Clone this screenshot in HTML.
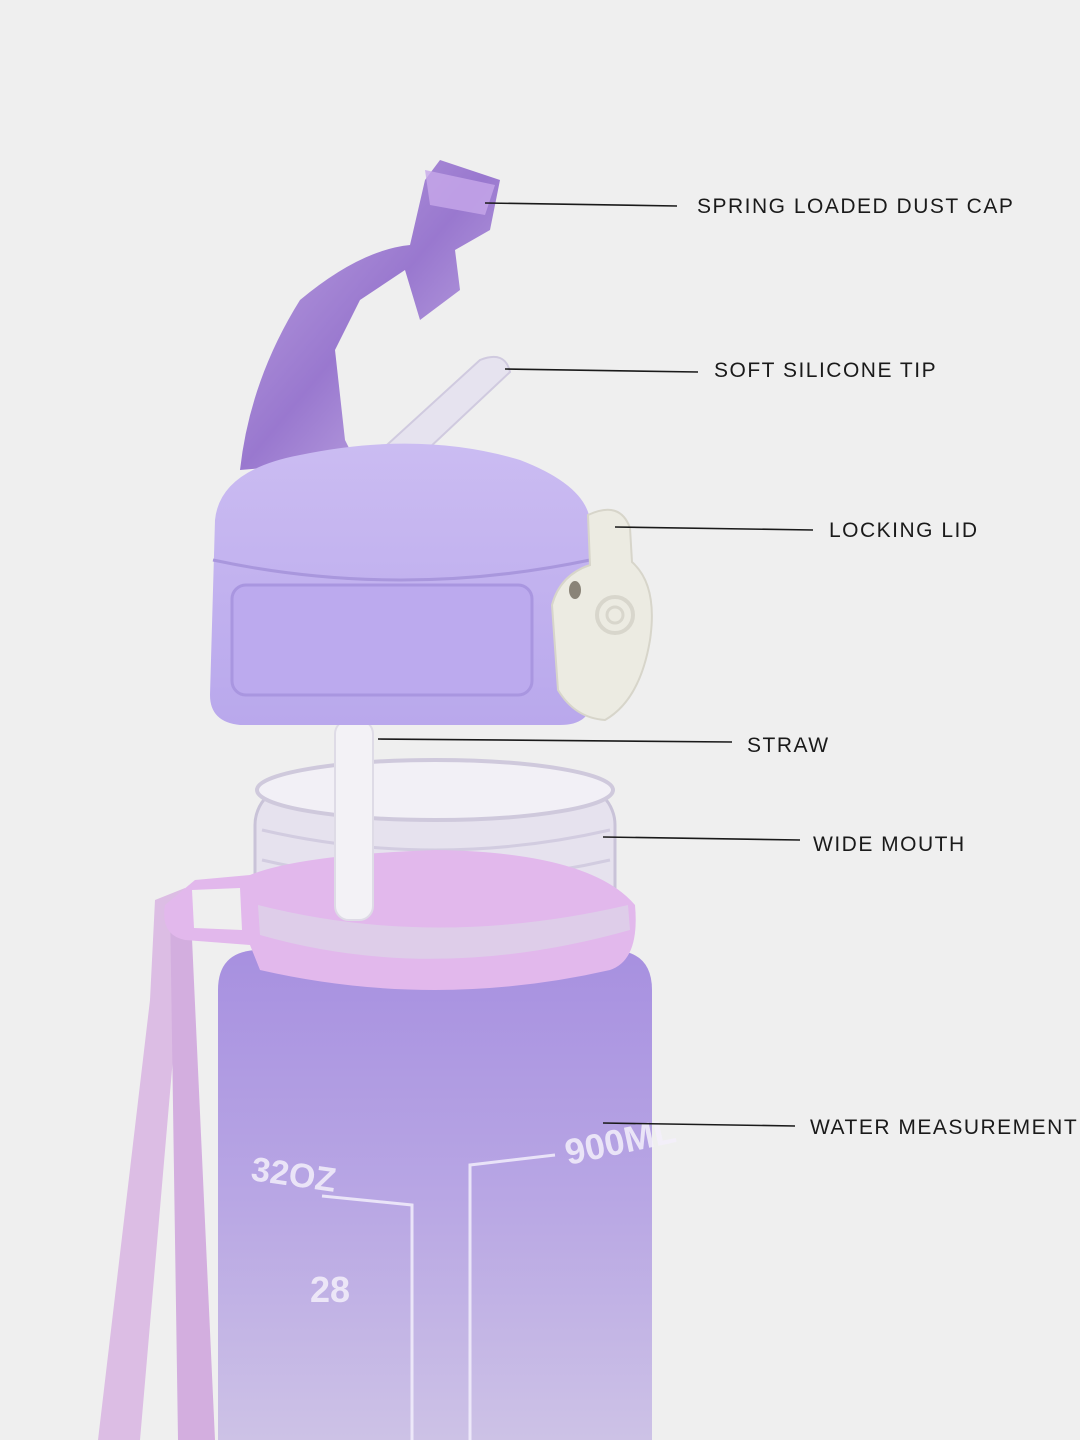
<!DOCTYPE html>
<html><head><meta charset="utf-8"><style>
html,body{margin:0;padding:0;background:#efefef;}
svg{display:block}
.lbl{font-family:"Liberation Sans",sans-serif;font-size:21px;letter-spacing:1.5px;fill:#1a1a1a}
.mk{font-family:"Liberation Sans",sans-serif;font-weight:bold;fill:#f4f0fb;opacity:.85}
</style></head><body>
<svg width="1080" height="1440" viewBox="0 0 1080 1440" xmlns="http://www.w3.org/2000/svg">
<defs>
<linearGradient id="body" x1="0" y1="0" x2="0" y2="1">
<stop offset="0" stop-color="#a790e0"/><stop offset=".5" stop-color="#b8a6e4"/><stop offset="1" stop-color="#cdc2e6"/></linearGradient>
<linearGradient id="cap" x1="0" y1="0" x2="1" y2="1">
<stop offset="0" stop-color="#b89be0"/><stop offset=".5" stop-color="#8a63c9"/><stop offset="1" stop-color="#c9b3ea"/></linearGradient>
<linearGradient id="lid" x1="0" y1="0" x2="0" y2="1">
<stop offset="0" stop-color="#cbbcf2"/><stop offset="1" stop-color="#b9a8ec"/></linearGradient>
</defs>
<rect width="1080" height="1440" fill="#efefef"/>

<!-- strap -->
<path d="M155 900 L185 888 L178 1000 L140 1440 L98 1440 L150 1000 Z" fill="#dcbde4"/>
<path d="M170 905 L190 895 L215 1440 L178 1440 Z" fill="#d3aedf"/>

<!-- bottle body -->
<path d="M218 1440 L218 990 Q218 950 260 950 L610 950 Q652 950 652 990 L652 1440 Z" fill="url(#body)"/>
<path d="M322 1196 L412 1205 L412 1440 M470 1440 L470 1165 L555 1155" stroke="#f2eefb" stroke-width="3" fill="none" opacity=".85"/>
<text class="mk" x="250" y="1180" font-size="34" transform="rotate(8 250 1180)">32OZ</text>
<text class="mk" x="310" y="1302" font-size="36">28</text>
<text class="mk" x="568" y="1165" font-size="36" transform="rotate(-12 568 1165)">900ML</text>

<!-- neck clear -->
<rect x="255" y="785" width="360" height="175" rx="40" fill="#e6e2ee" stroke="#c9c3d8" stroke-width="3"/>
<ellipse cx="435" cy="790" rx="178" ry="30" fill="#f2f0f6" stroke="#cfc9dc" stroke-width="4"/>
<path d="M262 830 Q435 870 610 830 M262 860 Q435 900 610 860" stroke="#d2cce0" stroke-width="3" fill="none"/>
<!-- pink ring -->
<path d="M195 880 L250 875 Q300 855 435 850 Q590 852 635 905 Q640 960 610 970 Q435 1010 260 970 L250 945 L185 940 Q160 935 165 905 Z" fill="#e2b8ec"/>
<path d="M192 890 L240 888 L242 930 L194 928 Z" fill="#efefef"/>
<path d="M258 905 Q435 950 628 905 L630 930 Q435 985 260 935 Z" fill="#ddd5e8" opacity=".7"/>

<!-- straw -->
<rect x="335" y="720" width="38" height="200" rx="14" fill="#f3f2f6" stroke="#dedbe6" stroke-width="2"/>

<!-- dust cap -->
<path d="M240 470 Q250 380 300 300 Q360 250 410 245 L425 180 L440 160 L500 180 L490 230 L455 250 L460 290 L420 320 L405 270 L360 300 L335 350 L345 440 L355 460 Z" fill="url(#cap)" opacity=".85"/>
<path d="M425 170 L495 185 L485 215 L430 205 Z" fill="#c7a8ea" opacity=".8"/>
<path d="M365 465 L480 360 Q505 350 510 372 L395 480 Z" fill="#e6e2f0" stroke="#cdc7de" stroke-width="2" opacity=".9"/>

<!-- lid -->
<path d="M215 520 Q220 470 300 455 Q420 430 520 460 Q585 485 590 520 L592 700 Q590 725 560 725 L240 725 Q210 722 210 695 Z" fill="url(#lid)"/>
<path d="M213 560 Q400 600 590 560" stroke="#a997dd" stroke-width="3" fill="none"/>
<rect x="232" y="585" width="300" height="110" rx="14" fill="#bcaaee" stroke="#a996e0" stroke-width="3"/>
<!-- lock clip -->
<path d="M588 515 Q620 500 630 528 L632 562 Q658 585 650 640 Q640 700 605 720 Q575 718 558 690 L552 605 Q560 575 590 565 Z" fill="#ecebe2" stroke="#d7d5ca" stroke-width="2"/>
<circle cx="615" cy="615" r="18" fill="none" stroke="#d8d6cc" stroke-width="4"/>
<circle cx="615" cy="615" r="8" fill="none" stroke="#d8d6cc" stroke-width="3"/>
<ellipse cx="575" cy="590" rx="6" ry="9" fill="#8a8478"/>

<!-- leader lines -->
<g stroke="#1a1a1a" stroke-width="1.6">
<line x1="485" y1="203" x2="677" y2="206"/>
<line x1="505" y1="369" x2="698" y2="372"/>
<line x1="615" y1="527" x2="813" y2="530"/>
<line x1="378" y1="739" x2="732" y2="742"/>
<line x1="603" y1="837" x2="800" y2="840"/>
<line x1="603" y1="1123" x2="795" y2="1126"/>
</g>
<text class="lbl" x="697" y="213">SPRING LOADED DUST CAP</text>
<text class="lbl" x="714" y="377">SOFT SILICONE TIP</text>
<text class="lbl" x="829" y="537">LOCKING LID</text>
<text class="lbl" x="747" y="752">STRAW</text>
<text class="lbl" x="813" y="851">WIDE MOUTH</text>
<text class="lbl" x="810" y="1134">WATER MEASUREMENT</text>
</svg>
</body></html>
